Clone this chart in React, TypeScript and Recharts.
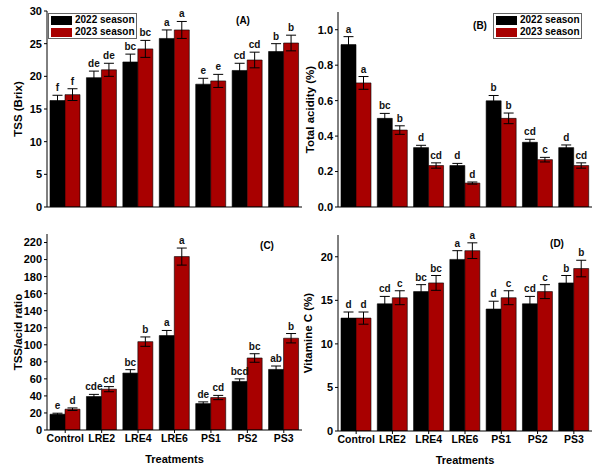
import React from 'react';
import { BarChart, Bar, XAxis, YAxis, ErrorBar, LabelList, Legend } from 'recharts';

const categories = ['Control', 'LRE2', 'LRE4', 'LRE6', 'PS1', 'PS2', 'PS3'];

const tss2022 = [16.3, 19.8, 22.2, 25.8, 18.8, 20.9, 23.8];
const tss2023 = [17.2, 21.0, 24.2, 27.1, 19.3, 22.5, 25.1];
const tssErr2022 = [0.8, 1.0, 1.2, 1.3, 0.9, 1.1, 1.2];
const tssErr2023 = [0.9, 1.0, 1.3, 1.3, 1.0, 1.2, 1.2];
const tssLet2022 = ['f', 'de', 'bc', 'a', 'e', 'cd', 'b'];
const tssLet2023 = ['f', 'de', 'bc', 'a', 'e', 'cd', 'b'];
const tssTicks = [0, 5, 10, 15, 20, 25, 30];

const acid2022 = [0.916, 0.5, 0.335, 0.234, 0.599, 0.365, 0.335];
const acid2023 = [0.7, 0.434, 0.234, 0.135, 0.5, 0.267, 0.234];
const acidErr2022 = [0.045, 0.028, 0.013, 0.012, 0.03, 0.017, 0.015];
const acidErr2023 = [0.036, 0.024, 0.015, 0.006, 0.03, 0.013, 0.015];
const acidLet2022 = ['a', 'bc', 'd', 'd', 'b', 'cd', 'd'];
const acidLet2023 = ['a', 'b', 'cd', 'd', 'b', 'c', 'cd'];
const acidTicks = [0, 0.2, 0.4, 0.6, 0.8, 1.0];

const ratio2022 = [18.5, 39.3, 66.8, 110.8, 31.0, 57, 71.1];
const ratio2023 = [24.4, 47.9, 103.7, 203.5, 38.1, 84.5, 107.7];
const ratioErr2022 = [1.2, 2.5, 4, 6, 2, 3, 4];
const ratioErr2023 = [1.5, 3, 5.5, 10, 2.5, 5, 5.5];
const ratioLet2022 = ['e', 'cde', 'bc', 'a', 'de', 'bcd', 'ab'];
const ratioLet2023 = ['d', 'cd', 'b', 'a', 'cd', 'bc', 'b'];
const ratioTicks = [0, 20, 40, 60, 80, 100, 120, 140, 160, 180, 200, 220];

const vitc2022 = [12.96, 14.6, 16.0, 19.7, 14.0, 14.6, 17.0];
const vitc2023 = [12.96, 15.3, 17.0, 20.7, 15.3, 16.0, 18.65];
const vitcErr2022 = [0.7, 0.85, 0.8, 1.0, 0.9, 0.85, 0.85];
const vitcErr2023 = [0.7, 0.8, 0.85, 0.9, 0.8, 0.8, 0.95];
const vitcLet2022 = ['d', 'cd', 'bc', 'a', 'd', 'cd', 'b'];
const vitcLet2023 = ['d', 'c', 'bc', 'a', 'c', 'c', 'b'];
const vitcTicks = [0, 5, 10, 15, 20];

const seriesNames = ['2022 season', '2023 season'];
const RED = '#a80000';
const FONT = '"Liberation Sans", Arial, sans-serif';

function buildRows(a: number[], b: number[], ea: number[], eb: number[], la: string[], lb: string[]) {
  return categories.map((cat, i) => ({ cat, a: a[i], b: b[i], ea: ea[i], eb: eb[i], la: la[i], lb: lb[i] }));
}

function letterContent(vals: number[], errs: number[], letters: string[]) {
  return (props: any) => {
    const vb = props.viewBox || props;
    const idx = props.index;
    const x = Number(vb.x), y = Number(vb.y), w = Number(vb.width), h = Number(vb.height);
    if (idx == null || !isFinite(x)) return null;
    const errPx = (errs[idx] * h) / vals[idx];
    return (
      <text x={x + w / 2} y={y - errPx - 4} textAnchor="middle" fontSize={10} fontWeight="bold" fontFamily={FONT} fill="#111">
        {letters[idx]}
      </text>
    );
  };
}

function LegendBox() {
  return (
    <div style={{ width: 87, height: 24, border: '1px solid #666', background: '#fff', fontFamily: FONT, fontWeight: 'bold', fontSize: 10, lineHeight: '12px', boxSizing: 'content-box', whiteSpace: 'nowrap', overflow: 'hidden' }}>
      {seriesNames.map((n, i) => (
        <div key={n} style={{ display: 'flex', alignItems: 'center', height: 12, marginLeft: 2, whiteSpace: 'nowrap' }}>
          <span style={{ display: 'inline-block', flex: '0 0 21px', width: 21, height: 9, background: i === 0 ? '#000' : RED, marginRight: 3 }} />
          <span style={{ whiteSpace: 'nowrap' }}>{n}</span>
        </div>
      ))}
    </div>
  );
}

type PanelProps = {
  left: number; top: number; width: number; height: number;
  margin: { top: number; right: number; bottom: number; left: number };
  yWidth: number; xHeight: number;
  a: number[]; b: number[]; ea: number[]; eb: number[]; la: string[]; lb: string[];
  domain: [number, number]; ticks: number[]; fmt?: (v: number) => string;
  yLabel: string; yLabelX: number; tag: string; tagX: number; tagY: number;
  legendPos?: { left: number; top: number }; showX: boolean;
};

function Panel(p: PanelProps) {
  const rows = buildRows(p.a, p.b, p.ea, p.eb, p.la, p.lb);
  const tickStyle = { fontSize: 11, fontWeight: 'bold', fill: '#000', fontFamily: FONT } as any;
  return (
    <div style={{ position: 'absolute', left: p.left, top: p.top, width: p.width, height: p.height }}>
      <BarChart width={p.width} height={p.height} data={rows} margin={p.margin} barGap={0} barSize={15}>
        <XAxis
          xAxisId="b"
          dataKey="cat"
          interval={0}
          height={p.xHeight}
          tickSize={3}
          stroke="#000"
          tick={p.showX ? { fontSize: 10.5, fontWeight: 'bold', fill: '#000', fontFamily: FONT } : false}
          label={p.showX ? {
            content: (lp: any) => {
              const vb = lp.viewBox;
              return (
                <text x={vb.x + vb.width / 2} y={vb.y + 33} textAnchor="middle" fontSize={11} fontWeight="bold" fontFamily={FONT} fill="#000">
                  Treatments
                </text>
              );
            },
          } : undefined}
        />
        <XAxis xAxisId="t" dataKey="cat" orientation="top" height={0} tick={false} tickLine={false} stroke="#000" />
        <YAxis
          yAxisId="l"
          domain={p.domain}
          ticks={p.ticks}
          width={p.yWidth}
          tickSize={3}
          stroke="#000"
          tick={tickStyle}
          tickFormatter={p.fmt}
          allowDataOverflow
          label={{
            content: (lp: any) => {
              const vb = lp.viewBox;
              const cy = vb.y + vb.height / 2;
              return (
                <text x={p.yLabelX} y={cy} transform={`rotate(-90 ${p.yLabelX} ${cy})`} textAnchor="middle" dominantBaseline="central" fontSize={11.5} fontWeight="bold" fontFamily={FONT} fill="#000">
                  {p.yLabel}
                </text>
              );
            },
          }}
        />
        <YAxis yAxisId="r" orientation="right" domain={p.domain} ticks={p.ticks} width={0} tick={false} tickSize={3} stroke="#000" allowDataOverflow />
        <Bar xAxisId="b" yAxisId="l" dataKey="a" name={seriesNames[0]} fill="#000" stroke="#000" strokeWidth={0.6} isAnimationActive={false}>
          <ErrorBar dataKey="ea" width={5} stroke="#000" strokeWidth={1} direction="y" />
          <LabelList dataKey="la" content={letterContent(p.a, p.ea, p.la)} />
        </Bar>
        <Bar xAxisId="b" yAxisId="l" dataKey="b" name={seriesNames[1]} fill={RED} stroke="#000" strokeWidth={0.6} isAnimationActive={false}>
          <ErrorBar dataKey="eb" width={5} stroke="#000" strokeWidth={1} direction="y" />
          <LabelList dataKey="lb" content={letterContent(p.b, p.eb, p.lb)} />
        </Bar>
        {p.legendPos && (
          <Legend layout="vertical" align="center" verticalAlign="middle" wrapperStyle={{ left: p.legendPos.left, top: p.legendPos.top, width: 89, height: 26 }} content={() => <LegendBox />} />
        )}
      </BarChart>
      <div style={{ position: 'absolute', left: p.tagX - 15, top: p.tagY - 7, width: 30, textAlign: 'center', fontFamily: FONT, fontWeight: 'bold', fontSize: 10, lineHeight: '14px' }}>
        {p.tag}
      </div>
    </div>
  );
}

export default function App() {
  return (
    <div style={{ position: 'absolute', left: 0, top: 0, width: 600, height: 470, background: '#fff', overflow: 'hidden' }}>
      <Panel
        left={0} top={0} width={310} height={235}
        margin={{ top: 11, right: 8, bottom: 8, left: 7 }} yWidth={40} xHeight={20}
        a={tss2022} b={tss2023} ea={tssErr2022} eb={tssErr2023} la={tssLet2022} lb={tssLet2023}
        domain={[0, 30]} ticks={tssTicks}
        yLabel="TSS (Brix)" yLabelX={18} tag="(A)" tagX={243} tagY={21}
        legendPos={{ left: 48, top: 13 }} showX={false}
      />
      <Panel
        left={300} top={0} width={300} height={235}
        margin={{ top: 12, right: 8, bottom: 8, left: 8 }} yWidth={30} xHeight={20}
        a={acid2022} b={acid2023} ea={acidErr2022} eb={acidErr2023} la={acidLet2022} lb={acidLet2023}
        domain={[0, 1.1]} ticks={acidTicks} fmt={(v: number) => v.toFixed(1)}
        yLabel="Total acidity (%)" yLabelX={10} tag="(B)" tagX={180} tagY={26}
        legendPos={{ left: 193, top: 13 }} showX={false}
      />
      <Panel
        left={0} top={230} width={310} height={240}
        margin={{ top: 4, right: 8, bottom: 4, left: 7 }} yWidth={40} xHeight={36}
        a={ratio2022} b={ratio2023} ea={ratioErr2022} eb={ratioErr2023} la={ratioLet2022} lb={ratioLet2023}
        domain={[0, 230]} ticks={ratioTicks}
        yLabel="TSS/acid ratio" yLabelX={18} tag="(C)" tagX={267} tagY={16}
        showX={true}
      />
      <Panel
        left={300} top={230} width={300} height={240}
        margin={{ top: 5, right: 8, bottom: 4, left: 8 }} yWidth={30} xHeight={35}
        a={vitc2022} b={vitc2023} ea={vitcErr2022} eb={vitcErr2023} la={vitcLet2022} lb={vitcLet2023}
        domain={[0, 22.5]} ticks={vitcTicks}
        yLabel="Vitamine C (%)" yLabelX={8} tag="(D)" tagX={257} tagY={14}
        showX={true}
      />
    </div>
  );
}
